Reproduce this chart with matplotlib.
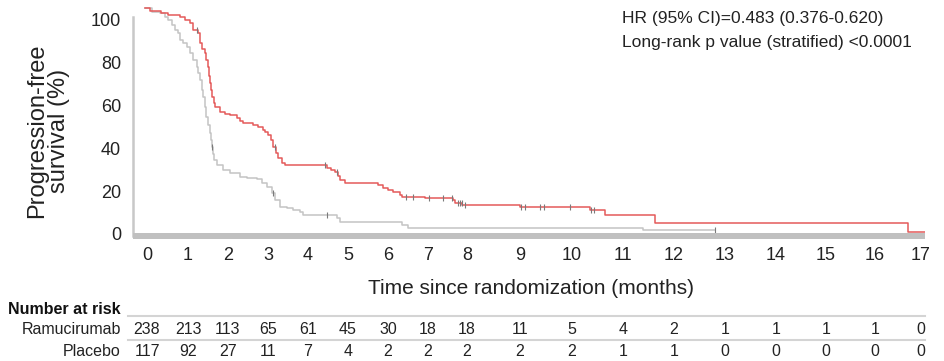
import numpy as np
import matplotlib
matplotlib.use("Agg")
import matplotlib.pyplot as plt

plt.rcParams["font.family"] = ["Liberation Sans", "DejaVu Sans"]

# Kaplan-Meier steps (months, % progression-free after each step)
ram_t = [0.00, 0.11, 0.36, 0.50, 0.76, 0.87, 0.98, 1.05, 1.15, 1.20, 1.25, 1.31,
         1.34, 1.37, 1.40, 1.42, 1.44, 1.46, 1.50, 1.53, 1.63, 1.75, 1.85, 2.00,
         2.08, 2.14, 2.35, 2.46, 2.57, 2.62, 2.68, 2.74, 2.79, 2.85, 2.90, 2.98,
         3.05, 3.97, 4.05, 4.14, 4.20, 4.25, 4.36, 5.08, 5.19, 5.30, 5.40, 5.56,
         5.60, 6.10, 6.71, 6.75, 6.91, 8.17, 9.70, 10.02, 11.11, 16.62]
ram_s = [105.0, 103.7, 102.9, 101.9, 101.1, 99.5, 98.1, 94.9, 93.5, 88.8, 86.0, 84.2,
         81.0, 77.7, 73.5, 70.2, 67.0, 63.7, 61.0, 59.1, 56.7, 55.8, 55.3, 54.0,
         52.8, 51.6, 50.7, 49.8, 48.4, 47.4, 46.0, 43.5, 40.5, 37.8, 35.3, 33.0,
         32.1, 30.7, 29.8, 28.8, 27.0, 25.1, 23.7, 22.8, 21.4, 20.5, 19.5, 18.1,
         17.2, 16.7, 15.8, 14.4, 13.5, 12.6, 11.2, 8.8, 5.1, 0.9]
ram_end = 17.0
ram_cens = [1.13, 2.83, 3.92, 4.18, 5.70, 5.85, 6.20, 6.50, 6.70, 6.82, 6.86,
            6.90, 6.97, 8.20, 8.28, 8.60, 8.70, 9.26, 9.72, 9.78]

pbo_t = [0.00, 0.15, 0.33, 0.44, 0.50, 0.59, 0.65, 0.72, 0.76, 0.83, 0.92, 0.98,
         1.05, 1.13, 1.15, 1.20, 1.24, 1.26, 1.31, 1.33, 1.38, 1.42, 1.44, 1.46,
         1.48, 1.50, 1.57, 1.70, 1.85, 2.07, 2.22, 2.44, 2.55, 2.66, 2.77, 2.83,
         2.94, 3.09, 3.22, 3.38, 3.44, 4.18, 4.25, 5.60, 5.73, 10.85]
pbo_s = [105.0, 103.3, 102.8, 100.9, 99.5, 97.2, 94.9, 93.5, 90.2, 88.8, 87.0, 84.2,
         80.9, 77.7, 74.9, 71.6, 67.0, 63.7, 59.1, 54.4, 50.5, 47.0, 43.5, 40.5,
         37.0, 34.4, 32.1, 29.8, 28.4, 26.5, 26.0, 25.6, 23.7, 21.9, 19.1, 15.8,
         12.6, 12.1, 11.2, 10.2, 8.8, 7.4, 5.6, 4.2, 2.8, 1.9]
pbo_end = 12.42
pbo_cens = [1.46, 2.80, 3.97, 12.42]

months = list(range(18))
risk_ram = [238, 213, 113, 65, 61, 45, 30, 18, 18, 11, 5, 4, 2, 1, 1, 1, 1, 0]
risk_pbo = [117, 92, 27, 11, 7, 4, 2, 2, 2, 2, 2, 1, 1, 0, 0, 0, 0, 0]

hr_text = "HR (95% CI)=0.483 (0.376-0.620)"
p_text = "Long-rank p value (stratified) <0.0001"

W, H = 945, 361
fig = plt.figure(figsize=(W / 100, H / 100), dpi=100)
ax = fig.add_axes([133 / W, 1 - 235.5 / H, 792 / W, 231.5 / H])


def surv_at(t, s, x):
    i = np.searchsorted(t, x, side="right") - 1
    return np.asarray(s)[i]


for t, s, end, cens, col in [(pbo_t, pbo_s, pbo_end, pbo_cens, "#c4c4c4"),
                             (ram_t, ram_s, ram_end, ram_cens, "#e45a5a")]:
    ax.step(t + [end], s + [s[-1]], where="post", color=col, lw=1.1)
    ax.plot(cens, surv_at(t, s, cens), ls="none", marker="|", ms=5,
            mew=0.8, color="#7a7a7a")

ax.set_xlim(-0.26, 17.0)
ax.set_ylim(-0.7, 107)
ax.set_xticks([])
ax.set_yticks(range(0, 101, 20))
ax.tick_params(axis="y", length=0, pad=8.5, labelsize=13, labelcolor="#222222")
for side in ["top", "right"]:
    ax.spines[side].set_visible(False)
ax.spines["bottom"].set_color("#c0c0c0")
ax.spines["bottom"].set_linewidth(4.3)
ax.spines["bottom"].set_capstyle("butt")
ax.spines["left"].set_color("#c8c8c8")
ax.spines["left"].set_linewidth(1.8)
ax.spines["left"].set_bounds(-0.7, 101)

fig.text(48 / W, 1 - 131 / H, "Progression-free\nsurvival (%)", rotation=90,
         ha="center", va="center", fontsize=17, linespacing=1.0,
         multialignment="center", color="#222222")
fig.text(622 / W, 1 - 18 / H, hr_text, ha="left", va="center", fontsize=12.5,
         color="#222222")
fig.text(622 / W, 1 - 43 / H, p_text, ha="left", va="center", fontsize=12.5,
         color="#222222")

# month labels and risk table share the same columns
col_x = [147, 188, 228, 268, 308, 348, 388, 428, 467, 520, 572, 623, 674, 725,
         776, 826, 875, 921]
tab = fig.add_axes([0, 0, 1, 1], zorder=3)
tab.set_xlim(0, W)
tab.set_ylim(H, 0)
tab.axis("off")
tab.patch.set_alpha(0)

for x, m in zip(col_x, months):
    tab.text(x, 256, str(m), ha="center", va="center", fontsize=13, color="#222222")
tab.text(531, 288, "Time since randomization (months)", ha="center", va="center",
         fontsize=15, color="#222222")

tab.text(8, 309, "Number at risk", ha="left", va="center", fontsize=11.5,
         fontweight="bold", color="#111111")
tab.text(121, 330, "Ramucirumab", ha="right", va="center", fontsize=11.5, color="#222222")
tab.text(121, 352, "Placebo", ha="right", va="center", fontsize=11.5, color="#222222")
for x, a, b in zip(col_x, risk_ram, risk_pbo):
    tab.text(x, 330, str(a), ha="center", va="center", fontsize=11.5, color="#222222")
    tab.text(x, 352, str(b), ha="center", va="center", fontsize=11.5, color="#222222")
for y in [316, 340]:
    tab.plot([128, 925], [y, y], color="#d4d4d4", lw=1.5)

fig.savefig("out.png", dpi=100)
